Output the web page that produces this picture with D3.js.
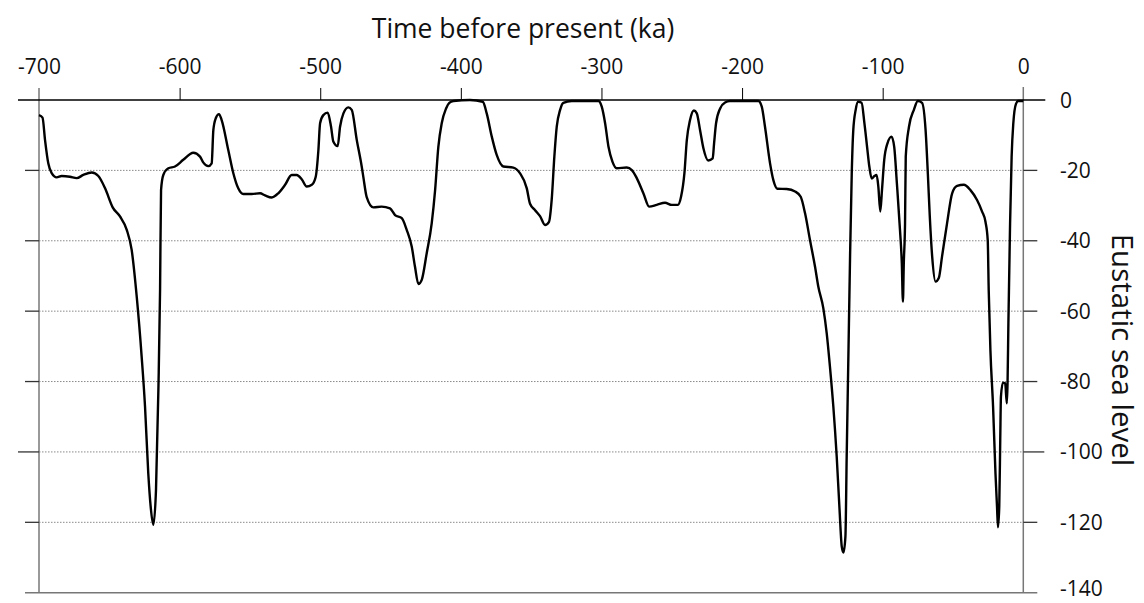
<!DOCTYPE html>
<html>
<head>
<meta charset="utf-8">
<script src="https://cdn.jsdelivr.net/npm/d3@7"></script>
<style>
  body { margin: 0; background: #fff; }
  svg { display: block; font-family: "Open Sans", sans-serif; }
</style>
</head>
<body>
<div id="chart"></div>
<script>
// sea level record, ka before present vs metres relative to today
const ages = [
  -700, -697.5, -695.7, -693.4, -691, -687.4, -683.9, -678, -673.2, -668.5,
  -662.5, -657.8, -653, -647.6, -642.4, -637.6, -634.1, -630.5, -627, -624.6,
  -622.3, -620.6, -618.7, -616.8, -615.1, -613.9, -613.2, -611.6, -608, -603.3,
  -597.4, -590.3, -585.5, -583.1, -579.6, -577.2, -576, -574.3, -572, -570.1,
  -565.4, -561.8, -558.3, -554.7, -548.7, -542.8, -539.3, -534.5, -529.8, -525,
  -520.3, -516.7, -513.2, -509.6, -506, -503.2, -501.3, -500.1, -497.8, -494.7,
  -492.3, -490.7, -487.6, -485.9, -483.5, -480, -477.6, -474, -470.5, -469.3,
  -467, -462.2, -456.3, -450.4, -446.8, -442, -438.5, -434.9, -432.6, -430.2,
  -427.8, -424.3, -420.7, -418.3, -416, -413.6, -410.5, -408.2, -405.3, -393.5,
  -384.4, -381.6, -378, -374.5, -369.8, -362.7, -358, -353.1, -350.8, -347.2,
  -343.7, -340.1, -337.3, -335.4, -333.5, -331.8, -329.4, -327.1, -321.2, -302.2,
  -299.8, -297.4, -295, -292.2, -289.1, -282, -278.4, -274.9, -270.2, -266.1,
  -260.7, -254.8, -250, -245.7, -243.4, -241, -239.3, -237, -234.3, -232.2,
  -229.9, -227.5, -224, -220.9, -219.9, -218.5, -215.6, -212.1, -208.6, -188.4,
  -186, -183.7, -180.1, -177.8, -174.9, -168.3, -162.3, -158.3, -155.2, -151.7,
  -148.1, -145.8, -142.2, -139.8, -137.5, -135.1, -132.7, -130.8, -129.1, -127.9,
  -126.5, -125.6, -124.4, -123.2, -122, -120.9, -119.2, -117.5, -115, -113,
  -111.1, -109.5, -107.8, -105.9, -104.3, -103.1, -101.7, -100.5, -98.9, -96.6,
  -93.7, -91.8, -89.9, -87.7, -86.4, -85.6, -85.0, -84.1, -83.6, -81.3,
  -77.8, -75, -72, -69.5, -67.9, -66.5, -64.8, -62.4, -60.1, -57.8,
  -54.2, -50.6, -47.1, -42.3, -37.6, -32.9, -29.3, -26.9, -25.3, -24.6,
  -23.4, -21.5, -19.8, -18.7, -18, -17.1, -16.4, -15.9, -14.5, -12.9,
  -11.7, -11.2, -10.6, -9.4, -8.3, -7.1, -5.2, -3.6, 0
];
const levels = [
  -4.3, -5, -11.4, -18, -20.8, -22, -21.6, -21.8, -22.2, -21.3,
  -20.6, -21.6, -25.1, -30.5, -33.1, -36.9, -42.6, -55.9, -72.9, -87.1,
  -106, -115.5, -120.7, -110.8, -82.4, -54, -25.6, -21.3, -19.4, -18.9,
  -17, -15, -16.1, -17.8, -18.8, -18, -8.5, -5.2, -4, -5.7,
  -14.2, -20.8, -25.1, -26.7, -26.7, -26.5, -27.1, -27.7, -26.5, -24.1,
  -21.3, -21.3, -22.5, -24.6, -24.1, -21.8, -14.2, -6.6, -4.3, -3.6,
  -7.6, -11.8, -13.1, -7.6, -3.8, -2.1, -2.8, -11.4, -18.9, -22,
  -27.5, -30.5, -30.3, -30.8, -32.7, -33.6, -36.9, -41.7, -47.4, -52.3,
  -51.1, -43.6, -35, -25.6, -13.3, -6.6, -2.4, -0.8, -0.3, 0,
  -0.5, -3.8, -10.4, -15.6, -18.9, -19.2, -20.8, -25.1, -29.5, -31.3,
  -33, -35.5, -34.6, -28.4, -16.1, -7.6, -2.8, -0.8, -0.3, -0.3,
  -1.9, -6.6, -13.3, -17.5, -19.4, -19.2, -19.9, -22.2, -26.5, -30.3,
  -29.8, -29.2, -29.8, -29.8, -27.5, -20.8, -11.4, -5.7, -3, -3.8,
  -8.5, -13.7, -17.2, -16.6, -12.3, -6.6, -2.4, -0.7, -0.3, -0.3,
  -1.9, -7.6, -18, -22.7, -25.2, -25.3, -26, -27.5, -32.2, -39.8,
  -47.4, -53, -59.2, -66.3, -75.8, -87.1, -101.3, -115.5, -126.9, -128.6,
  -124, -101.3, -72.9, -44.5, -20.8, -8.5, -2.8, -0.5, -0.8, -6.6,
  -13.3, -18.9, -22.3, -21.6, -21.3, -24.6, -31.7, -25.6, -17, -12.3,
  -10.4, -13.3, -23.7, -36.9, -46.4, -57.3, -46.5, -35, -16.1, -7.6,
  -2.8, -0.3, -0.8, -8.5, -20.8, -33.1, -44.5, -51.6, -50.6, -44.5,
  -35, -26.5, -24.4, -24.1, -25.6, -28.4, -31.7, -34.6, -39.8, -54,
  -71, -87.1, -106, -115.5, -121.4, -115.5, -96.6, -84.3, -80.3, -80.5,
  -86.2, -80.5, -63.4, -35, -16.1, -6.6, -1.1, -0.3, -0.3
];

const xTicks = [-700, -600, -500, -400, -300, -200, -100, 0];
const yTicks = [0, -20, -40, -60, -80, -100, -120, -140];
const yLongTicks = [0, -100];

const W = 1144, H = 603;
const plotLeft = 39, plotRight = 1023.3, plotTop = 100, plotBottom = 592.7;

const svg = d3.select("#chart").append("svg")
  .attr("width", W)
  .attr("height", H);

const x = d3.scaleLinear().domain([-700, 0]).range([plotLeft, plotRight]);
const y = d3.scaleLinear().domain([0, -140]).range([plotTop, plotBottom]);

// plain hyphen instead of d3's unicode minus
const fmt = d => String(d);

const innerTicks = yTicks.filter(d => d !== 0 && d !== -140);

// dotted grid
svg.append("g")
  .selectAll("line")
  .data(innerTicks)
  .join("line")
  .attr("x1", plotLeft).attr("x2", plotRight)
  .attr("y1", d => y(d)).attr("y2", d => y(d))
  .attr("stroke", "#8a8a8a")
  .attr("stroke-width", 1)
  .attr("stroke-dasharray", "1.5,1.5");

// left / right frame and bottom line
svg.append("line")
  .attr("x1", plotLeft).attr("x2", plotLeft)
  .attr("y1", plotTop - 12).attr("y2", plotBottom)
  .attr("stroke", "#777").attr("stroke-width", 1.5);
svg.append("line")
  .attr("x1", plotRight).attr("x2", plotRight)
  .attr("y1", plotTop - 13).attr("y2", plotBottom)
  .attr("stroke", "#777").attr("stroke-width", 1.5);
svg.append("line")
  .attr("x1", plotLeft - 14).attr("x2", plotRight + 14)
  .attr("y1", plotBottom).attr("y2", plotBottom)
  .attr("stroke", "#777").attr("stroke-width", 1.5);

// side ticks
svg.append("g")
  .selectAll("line")
  .data(innerTicks)
  .join("line")
  .attr("x1", d => yLongTicks.includes(d) ? plotLeft - 21 : plotLeft - 14)
  .attr("x2", plotLeft)
  .attr("y1", d => y(d)).attr("y2", d => y(d))
  .attr("stroke", "#333").attr("stroke-width", 1.3);
svg.append("g")
  .selectAll("line")
  .data(innerTicks)
  .join("line")
  .attr("x1", plotRight)
  .attr("x2", d => yLongTicks.includes(d) ? plotRight + 21 : plotRight + 14)
  .attr("y1", d => y(d)).attr("y2", d => y(d))
  .attr("stroke", "#333").attr("stroke-width", 1.3);

// top axis
const xAxis = svg.append("g")
  .attr("transform", `translate(0,${plotTop})`)
  .call(d3.axisTop(x).tickValues(xTicks).tickSize(12).tickSizeOuter(0).tickFormat(fmt));
xAxis.select(".domain").remove();
xAxis.selectAll(".tick line")
  .attr("stroke", "#000")
  .attr("stroke-width", 1)
  .filter(d => d === -700 || d === 0).remove();
xAxis.selectAll(".tick text")
  .attr("y", -26)
  .attr("dy", 0)
  .attr("fill", "#111")
  .style("font-size", "21px")
  .style("font-family", "'Open Sans', sans-serif");
svg.append("line")
  .attr("x1", plotLeft - 21).attr("x2", plotRight + 22)
  .attr("y1", plotTop).attr("y2", plotTop)
  .attr("stroke", "#000").attr("stroke-width", 1.6);

// right value labels (bottom one nudged up so it stays on the page)
svg.append("g")
  .selectAll("text")
  .data(yTicks)
  .join("text")
  .attr("x", 1060)
  .attr("y", d => d === -140 ? y(d) - 4 : y(d))
  .attr("dy", "0.36em")
  .attr("fill", "#111")
  .style("font-size", "21px")
  .text(fmt);

// titles
svg.append("text")
  .attr("x", 523)
  .attr("y", 38)
  .attr("text-anchor", "middle")
  .attr("fill", "#111")
  .style("font-size", "26.5px")
  .text("Time before present (ka)");
svg.append("text")
  .attr("transform", `translate(1112,350) rotate(90)`)
  .attr("text-anchor", "middle")
  .attr("fill", "#111")
  .style("font-size", "29.5px")
  .text("Eustatic sea level");

// curve
const line = d3.line()
  .x((d, i) => x(ages[i]))
  .y(d => y(d))
  .curve(d3.curveMonotoneX);
svg.append("path")
  .datum(levels)
  .attr("d", line)
  .attr("fill", "none")
  .attr("stroke", "#000")
  .attr("stroke-width", 2.4)
  .attr("stroke-linejoin", "round");
</script>
</body>
</html>
